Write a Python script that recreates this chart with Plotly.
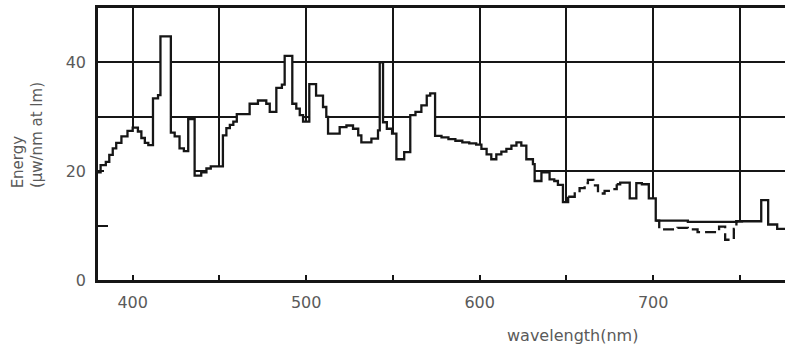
import plotly.graph_objects as go

# ---- data ----
wavelength = [380, 381.5, 384.5, 386.5, 388.5, 390.5, 393.5, 397, 400, 403, 405, 407, 409,
              411.7, 414.6, 416, 422, 424.2, 427, 429.5, 432, 435.7, 439.5, 442.5, 445,
              452, 454, 456, 458, 460, 467.4, 472.2, 477, 479, 482.8, 486, 487.6, 492,
              494.3, 496.3, 498.2, 501.8, 505.7, 509.7, 511.6, 512.6, 519.3, 523.2, 527,
              530, 531.8, 537.6, 541.4, 542.4, 544.3, 546.5, 549.5, 552, 556.5, 560, 563,
              566.4, 569.5, 571.5, 574.3, 578, 582, 586, 590, 594, 598, 601, 604, 606.7,
              609.6, 612.5, 615.4, 618.3, 621.2, 624, 626.9, 630.7, 631.7, 635.6, 640.3,
              643, 645.1, 648, 651, 654.8, 657.6, 660.5, 662.4, 665.5, 668.2, 672, 676,
              679, 681, 686.5, 690.3, 693.5, 697.5, 701.5, 720, 748, 762.3, 766.3, 771.5, 776]
energy = [19.8, 21.1, 21.7, 23.0, 24.2, 25.2, 26.4, 27.4, 28.0, 27.3, 26.1, 25.2, 24.8,
          33.4, 34.0, 44.8, 27.1, 26.4, 24.2, 23.7, 29.6, 19.2, 19.8, 20.5, 20.9,
          26.6, 27.9, 28.5, 29.1, 30.5, 32.4, 33.0, 32.4, 30.9, 35.3, 35.9, 41.2, 32.4,
          31.5, 30.3, 29.1, 36.0, 33.9, 31.8, 30.0, 26.9, 28.1, 28.4, 27.8,
          26.6, 25.3, 26.0, 27.5, 40.0, 29.0, 27.8, 26.9, 22.2, 23.5, 30.3, 30.9,
          32.1, 33.9, 34.3, 26.5, 26.2, 25.9, 25.6, 25.3, 25.1, 24.9, 24.1, 23.1, 22.2,
          23.1, 23.6, 24.1, 24.7, 25.3, 24.7, 22.2, 21.3, 18.2, 19.8, 18.5,
          18.2, 17.5, 14.3, 15.3, 15.9, 16.9, 17.8, 18.4, 17.4, 15.9, 16.4, 16.7,
          17.6, 17.9, 15.0, 17.8, 17.6, 15.0, 10.9, 10.7, 10.8, 14.7, 10.2, 9.4, 9.4]

# portion of the main curve that is printed dashed
dashed_range = (651, 679)

# second (lower, dashed) curve
wavelength_b = [701.5, 703.5, 714, 720, 725.6, 738, 741.5, 746.5, 748, 752]
energy_b = [10.9, 9.3, 9.6, 9.3, 8.8, 9.8, 7.4, 9.4, 10.8, 10.8]

x_ticks = [400, 500, 600, 700]
x_minor_ticks = [450, 550, 650, 750]
y_ticks = [0, 20, 30, 40]
y_ticktext = ["0", "20", "", "40"]
y_minor_ticks = [10]

LINE = "#161616"
TXT = "#5a5a5a"

fig = go.Figure()

# white area under the curve hides the grid
fig.add_trace(go.Scatter(x=wavelength, y=energy, mode="lines", line_shape="hv",
                         line=dict(width=0, color="white"), fill="tozeroy",
                         fillcolor="white", hoverinfo="skip", showlegend=False))

lo, hi = dashed_range
seg1 = [(w, e) for w, e in zip(wavelength, energy) if w <= lo]
segd = [(w, e) for w, e in zip(wavelength, energy) if lo <= w <= hi]
seg2 = [(w, e) for w, e in zip(wavelength, energy) if w >= hi]

for seg, dash in ((seg1, "solid"), (seg2, "solid"), (segd, "11px,5px")):
    fig.add_trace(go.Scatter(x=[p[0] for p in seg], y=[p[1] for p in seg],
                             mode="lines", line_shape="hv",
                             line=dict(color=LINE, width=2.3, dash=dash),
                             showlegend=False))

fig.add_trace(go.Scatter(x=wavelength_b, y=energy_b, mode="lines", line_shape="hv",
                         line=dict(color=LINE, width=2.3, dash="11px,5px"),
                         showlegend=False))

fig.update_layout(
    width=785, height=348,
    margin=dict(l=98, r=0, t=8, b=68, autoexpand=False),
    paper_bgcolor="white", plot_bgcolor="white",
    font=dict(family="DejaVu Sans", color=TXT),
    xaxis=dict(range=[380, 776], tickvals=x_ticks, ticks="inside", ticklen=5,
               tickcolor=LINE, tickwidth=2, automargin=False,
               showgrid=True, gridcolor=LINE, gridwidth=2,
               minor=dict(tickvals=x_minor_ticks, showgrid=True, gridcolor=LINE,
                          gridwidth=2, ticks="inside", ticklen=5, tickcolor=LINE),
               showline=True, linecolor=LINE, linewidth=2.5, mirror=True,
               zeroline=False, tickfont=dict(size=16, color=TXT),
               ticklabelstandoff=6),
    yaxis=dict(range=[0, 50], tickvals=y_ticks, ticktext=y_ticktext,
               ticks="inside", ticklen=6, tickcolor=LINE, tickwidth=2,
               automargin=False,
               showgrid=True, gridcolor=LINE, gridwidth=2,
               minor=dict(tickvals=y_minor_ticks, showgrid=False, ticks="inside",
                          ticklen=10, tickcolor=LINE, tickwidth=2),
               showline=True, linecolor=LINE, linewidth=2.5, mirror=False,
               zeroline=False, tickfont=dict(size=16, color=TXT),
               ticklabelstandoff=6),
    annotations=[
        dict(text="Energy", textangle=-90, xref="paper", yref="paper",
             x=-0.117, y=0.33, xanchor="center", yanchor="bottom",
             showarrow=False, font=dict(size=15, color=TXT)),
        dict(text="(\u03bcw/nm at lm)", textangle=-90, xref="paper", yref="paper",
             x=-0.089, y=0.33, xanchor="center", yanchor="bottom",
             showarrow=False, font=dict(size=15, color=TXT)),
        dict(text="wavelength(nm)", xref="paper", yref="paper",
             x=0.69, y=-0.205, xanchor="center", yanchor="middle",
             showarrow=False, font=dict(size=16, color=TXT)),
    ],
)

fig.write_html("out.html", config={"displayModeBar": False},
               post_script="document.body.style.margin='0';document.body.style.padding='0';")
